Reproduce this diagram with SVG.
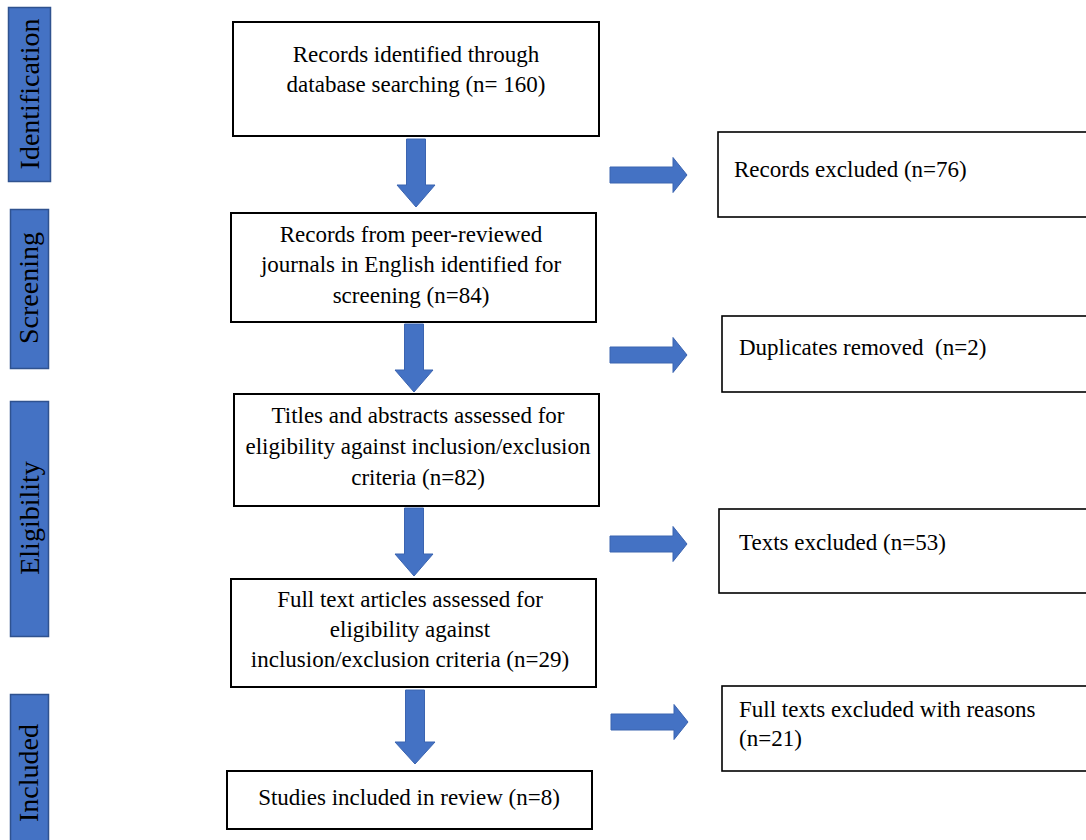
<svg xmlns="http://www.w3.org/2000/svg" width="1086" height="840" viewBox="0 0 1086 840">
  <style>
    .tab { fill: #4472C4; stroke: #2F528F; stroke-width: 1.5; }
    .tab-label { font-family: "Liberation Serif", "Times New Roman", serif; font-size: 28px; fill: #000; text-anchor: middle; }
    .box { fill: #fff; stroke: #000; stroke-width: 2; }
    .side { fill: #fff; stroke: #000; stroke-width: 1.6; }
    .t { font-family: "Liberation Serif", "Times New Roman", serif; font-size: 23px; fill: #000; }
    .c { text-anchor: middle; }
    .arrow { fill: #4472C4; stroke: #3B64B0; stroke-width: 1; }
  </style>
  <defs>
    <!-- block arrows, origin at the tail centre -->
    <path id="down" d="M -9.5 0 H 9.5 V 46 H 19 L 0 68 L -19 46 H -9.5 Z"/>
    <path id="down-long" d="M -9.5 0 H 9.5 V 52 H 20 L 0 74 L -20 52 H -9.5 Z"/>
    <path id="right" d="M 0 -8 H 63 V -17.5 L 77 0 L 63 17.5 V 8 H 0 Z"/>
  </defs>
  <rect width="1086" height="840" fill="#fff"/>

  <!-- stage tabs -->
  <g id="tab-identification">
    <rect class="tab" x="8.5" y="7.5" width="42" height="174"/>
    <text class="tab-label" transform="translate(39,94) rotate(-90)">Identification</text>
  </g>
  <g id="tab-screening">
    <rect class="tab" x="10.5" y="209.5" width="38" height="159"/>
    <text class="tab-label" transform="translate(38,288) rotate(-90)">Screening</text>
  </g>
  <g id="tab-eligibility">
    <rect class="tab" x="10.5" y="401.5" width="38" height="235"/>
    <text class="tab-label" transform="translate(39,518) rotate(-90)">Eligibility</text>
  </g>
  <g id="tab-included">
    <rect class="tab" x="10.5" y="694.5" width="38" height="150"/>
    <text class="tab-label" transform="translate(38,773) rotate(-90)">Included</text>
  </g>

  <!-- main flow -->
  <g id="n-identified">
    <rect class="box" x="233" y="22" width="366" height="114"/>
    <text class="t c" x="416" y="62">Records identified through</text>
    <text class="t c" x="416" y="92">database searching (n= 160)</text>
  </g>
  <g id="n-screening">
    <rect class="box" x="231" y="213" width="365" height="109"/>
    <text class="t c" x="411" y="242">Records from peer-reviewed</text>
    <text class="t c" x="411" y="272">journals in English identified for</text>
    <text class="t c" x="411" y="303">screening (n=84)</text>
  </g>
  <g id="n-abstracts">
    <rect class="box" x="234" y="394" width="365" height="112"/>
    <text class="t c" x="418" y="423">Titles and abstracts assessed for</text>
    <text class="t c" x="418" y="454">eligibility against inclusion/exclusion</text>
    <text class="t c" x="418" y="485">criteria (n=82)</text>
  </g>
  <g id="n-fulltext">
    <rect class="box" x="231" y="579" width="365" height="108"/>
    <text class="t c" x="410" y="607">Full text articles assessed for</text>
    <text class="t c" x="410" y="637">eligibility against</text>
    <text class="t c" x="410" y="667">inclusion/exclusion criteria (n=29)</text>
  </g>
  <g id="n-included">
    <rect class="box" x="227" y="771" width="365" height="58"/>
    <text class="t c" x="409" y="805">Studies included in review (n=8)</text>
  </g>

  <!-- exclusion boxes -->
  <g id="x-records">
    <rect class="side" x="718" y="132" width="380" height="85"/>
    <text class="t" x="734" y="177">Records excluded (n=76)</text>
  </g>
  <g id="x-duplicates">
    <rect class="side" x="722" y="316" width="380" height="76"/>
    <text class="t" x="739" y="355" xml:space="preserve">Duplicates removed  (n=2)</text>
  </g>
  <g id="x-texts">
    <rect class="side" x="719" y="509" width="380" height="84"/>
    <text class="t" x="739" y="550">Texts excluded (n=53)</text>
  </g>
  <g id="x-fulltexts">
    <rect class="side" x="722" y="686" width="380" height="85"/>
    <text class="t" x="739" y="717">Full texts excluded with reasons</text>
    <text class="t" x="739" y="746">(n=21)</text>
  </g>

  <!-- connectors -->
  <g id="connectors">
    <use href="#down" class="arrow" x="416" y="139"/>
    <use href="#down" class="arrow" x="414" y="324"/>
    <use href="#down" class="arrow" x="414" y="508"/>
    <use href="#down-long" class="arrow" x="415" y="690"/>
    <use href="#right" class="arrow" x="610" y="175"/>
    <use href="#right" class="arrow" x="610" y="355"/>
    <use href="#right" class="arrow" x="610" y="544"/>
    <use href="#right" class="arrow" x="611" y="722"/>
  </g>
</svg>
